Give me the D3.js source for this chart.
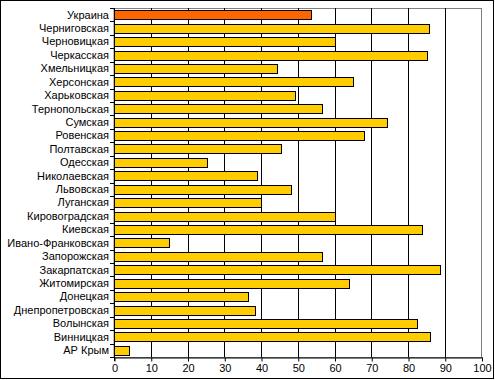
<!DOCTYPE html>
<html>
<head>
<meta charset="utf-8">
<script src="https://cdn.jsdelivr.net/npm/d3@7"></script>
<style>
  html, body { margin: 0; padding: 0; background: #fff; }
  svg { display: block; }
  text { font-family: "Liberation Sans", Arial, sans-serif; font-size: 11px; fill: #000; }
</style>
</head>
<body>
<svg id="chart" width="495" height="380"></svg>
<script>
const categories = [
  "Украина", "Черниговская", "Черновицкая", "Черкасская", "Хмельницкая",
  "Херсонская", "Харьковская", "Тернопольская", "Сумская", "Ровенская",
  "Полтавская", "Одесская", "Николаевская", "Львовская", "Луганская",
  "Кировоградская", "Киевская", "Ивано-Франковская", "Запорожская",
  "Закарпатская", "Житомирская", "Донецкая", "Днепропетровская",
  "Волынская", "Винницкая", "АР Крым"
];
const values = [
  53.7, 85.8, 60.2, 85.3, 44.4,
  64.9, 49.3, 56.7, 74.4, 68.1,
  45.5, 25.4, 38.8, 48.2, 40.1,
  60.2, 83.9, 15.1, 56.7,
  88.8, 64.0, 36.5, 38.4,
  82.5, 86.1, 4.2
];
const xTicks = [0, 10, 20, 30, 40, 50, 60, 70, 80, 90, 100];
const highlight = "Украина";

(function () {
const svg = d3.select("#chart");
const pLeft = 114, pRight = 481.5, pTop = 8, pBottom = 357;

// outer frame
svg.append("rect").attr("x", 0.5).attr("y", 0.5).attr("width", 493).attr("height", 378)
  .attr("fill", "#fff").attr("stroke", "#000").attr("stroke-width", 1);

const x = d3.scaleLinear().domain([0, 100]).range([pLeft, pRight]);
const y = d3.scaleBand().domain(categories).range([pTop, pBottom])
  .paddingInner(1/3).paddingOuter(1/6);

// plot area border (gray)
svg.append("rect").attr("x", pLeft).attr("y", pTop + 0.5)
  .attr("width", pRight - pLeft).attr("height", pBottom - pTop)
  .attr("fill", "none").attr("stroke", "#808080").attr("stroke-width", 1);

// gridlines
svg.append("g").selectAll("line").data(xTicks.filter(t => t > 0 && t < 100)).join("line")
  .attr("x1", d => Math.round(x(d)) + 0.5).attr("x2", d => Math.round(x(d)) + 0.5)
  .attr("y1", pTop).attr("y2", pBottom)
  .attr("stroke", "#000").attr("stroke-width", 1);

// bars
svg.append("g").selectAll("rect").data(categories).join("rect")
  .attr("x", x(0) + 0.5)
  .attr("y", d => Math.round(y(d)) + 0.5)
  .attr("width", (d, i) => Math.round(x(values[i]) - x(0)))
  .attr("height", Math.round(y.bandwidth()))
  .attr("fill", d => d === highlight ? "#FF6600" : "#FFCC00")
  .attr("stroke", "#000").attr("stroke-width", 1);

// x axis
const xAxis = d3.axisBottom(x).tickValues(xTicks).tickSize(4).tickPadding(3).tickSizeOuter(0);
const gx = svg.append("g").attr("transform", `translate(0.5,${pBottom + 0.5})`).call(xAxis);
gx.select(".domain").attr("stroke", "#000");
gx.selectAll(".tick line").attr("stroke", "#000");
gx.selectAll("text").attr("font-size", "11px").attr("font-family", "Liberation Sans, Arial, sans-serif").attr("fill", "#000");

// y axis line
svg.append("line").attr("x1", pLeft + 0.5).attr("x2", pLeft + 0.5)
  .attr("y1", pTop).attr("y2", pBottom + 4)
  .attr("stroke", "#000");

// y tick marks at category boundaries
const bounds = categories.map(c => y(c) - y.step() * y.paddingInner() / 2);
bounds.push(pBottom);
svg.append("g").selectAll("line").data(bounds).join("line")
  .attr("x1", pLeft - 4).attr("x2", pLeft)
  .attr("y1", d => Math.round(d) + 0.5).attr("y2", d => Math.round(d) + 0.5)
  .attr("stroke", "#000");

// category labels
svg.append("g").selectAll("text").data(categories).join("text")
  .attr("x", pLeft - 5)
  .attr("y", d => y(d) + y.bandwidth() / 2)
  .attr("dy", "0.35em")
  .attr("text-anchor", "end")
  .text(d => d);
})();
</script>
</body>
</html>
